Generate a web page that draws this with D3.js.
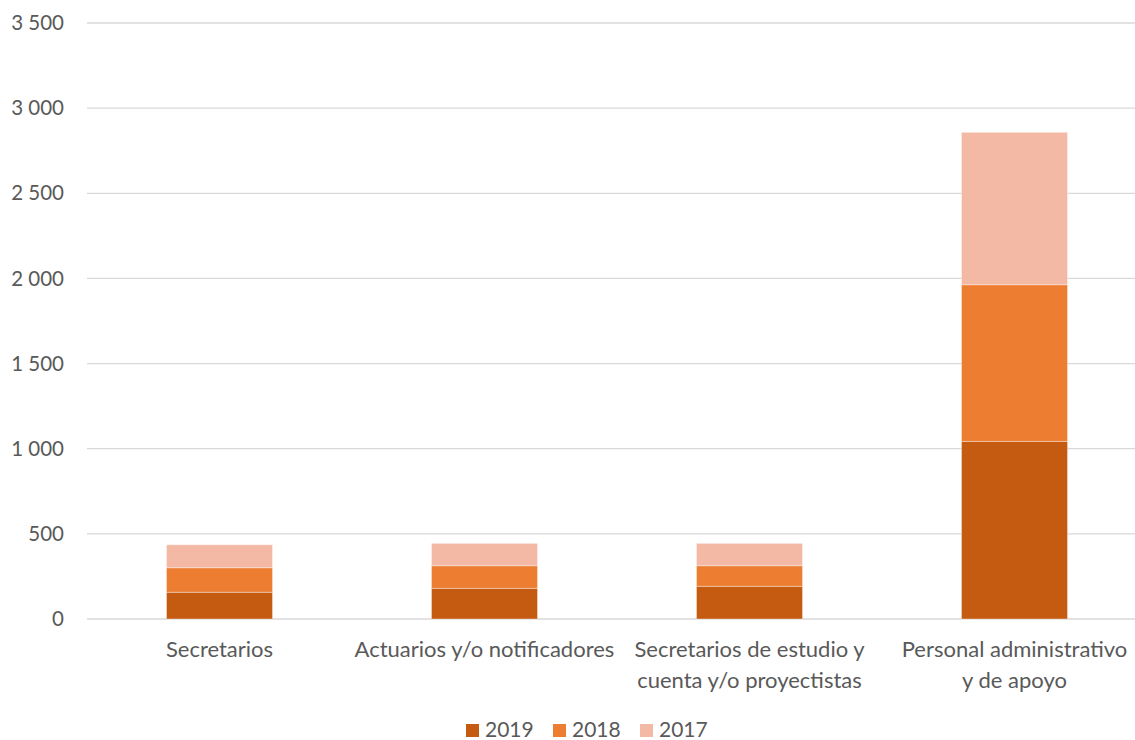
<!DOCTYPE html>
<html>
<head>
<meta charset="utf-8">
<script src="https://cdn.jsdelivr.net/npm/d3@7"></script>
<style>
  html, body { margin: 0; padding: 0; background: #fff; }
  svg { display: block; font-family: Lato, "Open Sans", "Liberation Sans", sans-serif; }
</style>
</head>
<body>
<svg id="chart" width="1135" height="740"></svg>
<script>
// Personal por categoría y año
const categories = [
  ["Secretarios"],
  ["Actuarios y/o notificadores"],
  ["Secretarios de estudio y", "cuenta y/o proyectistas"],
  ["Personal administrativo", "y de apoyo"]
];
const years = ["2019", "2018", "2017"];
const values2019 = [157, 180, 192, 1043];
const values2018 = [144, 133, 121, 920];
const values2017 = [135, 131, 131, 895];
const yTicks = [0, 500, 1000, 1500, 2000, 2500, 3000, 3500];
const colors = ["#C55A11", "#ED7D31", "#F4B9A5"];

const rows = categories.map((c, i) => ({
  key: i,
  "2019": values2019[i],
  "2018": values2018[i],
  "2017": values2017[i]
}));

const svg = d3.select("#chart");
const margin = { left: 87, right: -12, top: 23, bottom: 121 };
const W = 1135, H = 740;

const x = d3.scaleBand()
  .domain(d3.range(categories.length))
  .range([margin.left, W - margin.right])
  .paddingInner(0.6)
  .paddingOuter(0.3);

const y = d3.scaleLinear()
  .domain([0, 3500])
  .range([H - margin.bottom, margin.top]);

// horizontal gridlines
svg.append("g")
  .selectAll("line")
  .data(yTicks)
  .join("line")
  .attr("x1", margin.left)
  .attr("x2", W)
  .attr("y1", d => y(d))
  .attr("y2", d => y(d))
  .attr("stroke", "#D9D9D9")
  .attr("stroke-width", 1.3);

// y-axis labels
const fmt = d => d3.format(",")(d).replace(/,/g, " ");
svg.append("g")
  .selectAll("text")
  .data(yTicks)
  .join("text")
  .attr("x", 64)
  .attr("y", d => y(d))
  .attr("dy", "0.35em")
  .attr("text-anchor", "end")
  .attr("fill", "#595959")
  .attr("font-size", 20.5)
  .text(fmt);

// stacked bars
const stack = d3.stack().keys(years);
const series = stack(rows);

svg.append("g")
  .selectAll("g")
  .data(series)
  .join("g")
  .attr("fill", (d, i) => colors[i])
  .selectAll("rect")
  .data(d => d)
  .join("rect")
  .attr("x", d => x(d.data.key))
  .attr("width", x.bandwidth())
  .attr("y", d => y(d[1]))
  .attr("height", d => y(d[0]) - y(d[1]))
  .attr("stroke", "#fff")
  .attr("stroke-opacity", 0.35)
  .attr("stroke-width", 1);

// category labels
const catG = svg.append("g");
categories.forEach((lines, i) => {
  const cx = x(i) + x.bandwidth() / 2;
  const t = catG.append("text")
    .attr("text-anchor", "middle")
    .attr("fill", "#595959")
    .attr("font-size", 22);
  lines.forEach((ln, j) => {
    t.append("tspan")
      .attr("x", cx)
      .attr("y", 657 + j * 31)
      .text(ln);
  });
});

// legend
const legend = svg.append("g");
const legX = [466, 553, 640];
years.forEach((yr, i) => {
  legend.append("rect")
    .attr("x", legX[i])
    .attr("y", 724)
    .attr("width", 13)
    .attr("height", 13)
    .attr("fill", colors[i]);
  legend.append("text")
    .attr("x", legX[i] + 19)
    .attr("y", 737)
    .attr("fill", "#595959")
    .attr("font-size", 21)
    .text(yr);
});
</script>
</body>
</html>
